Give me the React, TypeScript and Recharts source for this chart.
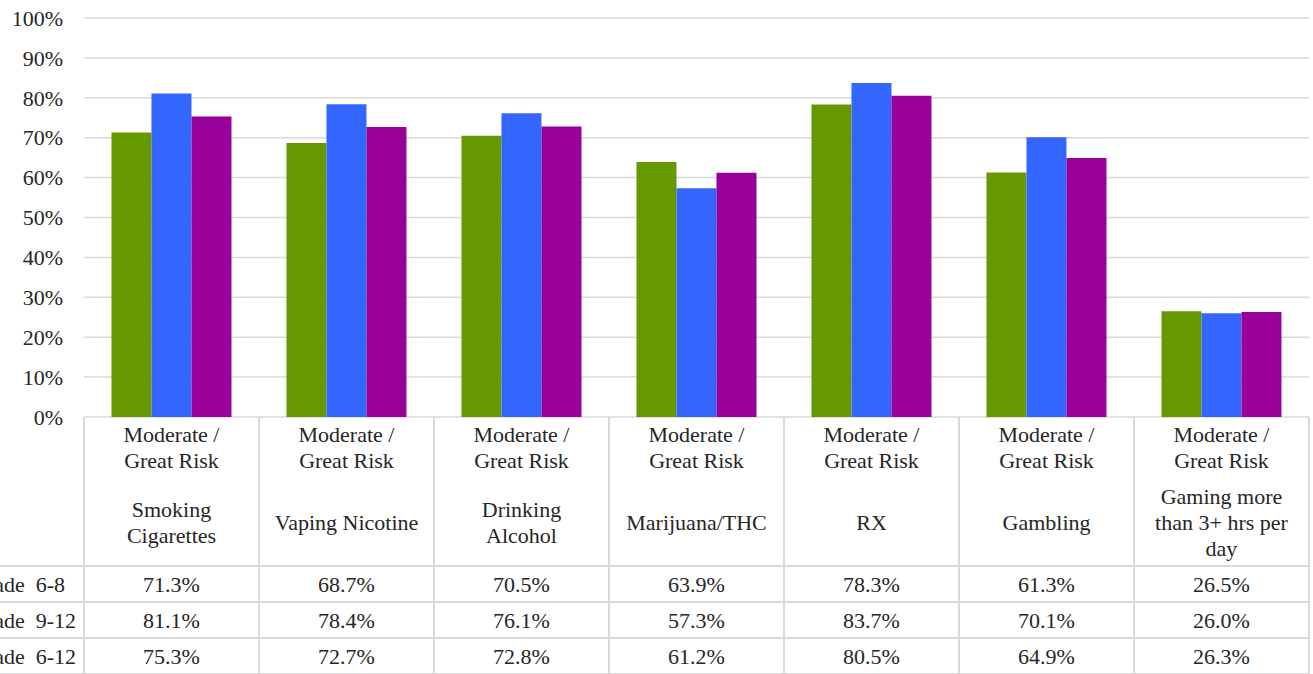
import React from 'react';
import { BarChart, Bar, XAxis, YAxis, CartesianGrid } from 'recharts';

// Perceived risk by grade group
const categories = [
  'Smoking Cigarettes',
  'Vaping Nicotine',
  'Drinking Alcohol',
  'Marijuana/THC',
  'RX',
  'Gambling',
  'Gaming more than 3+ hrs per day',
];
const categoryLines = [
  ['Smoking', 'Cigarettes'],
  ['Vaping Nicotine'],
  ['Drinking', 'Alcohol'],
  ['Marijuana/THC'],
  ['RX'],
  ['Gambling'],
  ['Gaming more', 'than 3+ hrs per', 'day'],
];
const riskLines = ['Moderate /', 'Great Risk'];

const grade68 = [71.3, 68.7, 70.5, 63.9, 78.3, 61.3, 26.5];
const grade912 = [81.1, 78.4, 76.1, 57.3, 83.7, 70.1, 26.0];
const grade612 = [75.3, 72.7, 72.8, 61.2, 80.5, 64.9, 26.3];

const seriesNames = ['Grade  6-8', 'Grade  9-12', 'Grade  6-12'];
const seriesColors = ['#669900', '#3366FF', '#990099'];
const yTicks = [0, 10, 20, 30, 40, 50, 60, 70, 80, 90, 100];

const W = 1313;
const H = 674;
const MARGIN = { top: 18, right: 4, bottom: 0, left: 0 };
const Y_AXIS_W = 84;
const X_AXIS_H = 257;
const FONT = 'Liberation Serif';
const TEXT = '#262626';
const BORDER = '#d9d9d9';

const chartData = categories.map((c, i) => ({
  name: c,
  g68: grade68[i],
  g912: grade912[i],
  g612: grade612[i],
}));
const seriesValues = [grade68, grade912, grade612];

const bandWidth = (W - MARGIN.left - MARGIN.right - Y_AXIS_W) / categories.length;
const HEADER_H = 149;
const ROW_H = 36;

const T = (p: any) => (
  <text fontFamily={FONT} fontSize={22} fill={TEXT} style={{ fontFamily: FONT, fontSize: 22, whiteSpace: 'pre' }} {...p} />
);

const renderYTick = (p: any) => (
  <T x={63} y={p.y} dy="0.35em" textAnchor="end">
    {`${p.payload.value}%`}
  </T>
);

const renderTableTick = (props: any) => {
  const { x, y, payload, index } = props;
  const half = bandWidth / 2;
  const i = payload.index ?? index;
  const lines = categoryLines[i];
  const rowTops = [0, 1, 2, 3].map((r) => y + HEADER_H + r * ROW_H);
  const nameMid = y + 113;
  return (
    <g key={'t' + i}>
      {/* column borders */}
      <line x1={x + half} x2={x + half} y1={y} y2={H} stroke={BORDER} strokeWidth={2} />
      {i === 0 && <line x1={x - half} x2={x - half} y1={y} y2={H} stroke={BORDER} strokeWidth={2} />}
      {rowTops.map((ry, r) => (
        <line key={r} x1={i === 0 ? -10 : x - half} x2={x + half} y1={ry} y2={ry} stroke={BORDER} strokeWidth={2} />
      ))}
      {/* header */}
      {riskLines.map((t, k) => (
        <T key={'r' + k} x={x} y={y + 25 + k * 26} textAnchor="middle">
          {t}
        </T>
      ))}
      {lines.map((t, k) => (
        <T key={'n' + k} x={x} y={nameMid + (k - (lines.length - 1) / 2) * 26} textAnchor="middle">
          {t}
        </T>
      ))}
      {/* values */}
      {seriesValues.map((vals, r) => (
        <T key={'v' + r} x={x} y={rowTops[r] + ROW_H / 2} dy="0.35em" textAnchor="middle">
          {vals[i].toFixed(1) + '%'}
        </T>
      ))}
      {/* row labels (legend column, cut at the left edge) */}
      {i === 0 &&
        seriesNames.map((s, r) => (
          <T key={'s' + r} x={-29} y={rowTops[r] + ROW_H / 2} dy="0.35em" textAnchor="start">
            {s}
          </T>
        ))}
    </g>
  );
};

export default function App() {
  return (
    <div style={{ position: 'absolute', left: 0, top: 0, width: W, height: H, background: '#fff' }}>
      <BarChart width={W} height={H} data={chartData} margin={MARGIN} barCategoryGap="15.7%" barGap={0}>
        <CartesianGrid vertical={false} stroke={BORDER} strokeWidth={1.5} />
        <YAxis
          width={Y_AXIS_W}
          domain={[0, 100]}
          ticks={yTicks}
          interval={0}
          axisLine={false}
          tickLine={false}
          tick={renderYTick}
        />
        <XAxis
          dataKey="name"
          height={X_AXIS_H}
          interval={0}
          axisLine={false}
          tickLine={false}
          tickSize={0}
          tickMargin={0}
          tick={renderTableTick}
        />
        <Bar dataKey="g68" name={seriesNames[0]} fill={seriesColors[0]} isAnimationActive={false} />
        <Bar dataKey="g912" name={seriesNames[1]} fill={seriesColors[1]} isAnimationActive={false} />
        <Bar dataKey="g612" name={seriesNames[2]} fill={seriesColors[2]} isAnimationActive={false} />
      </BarChart>
    </div>
  );
}
